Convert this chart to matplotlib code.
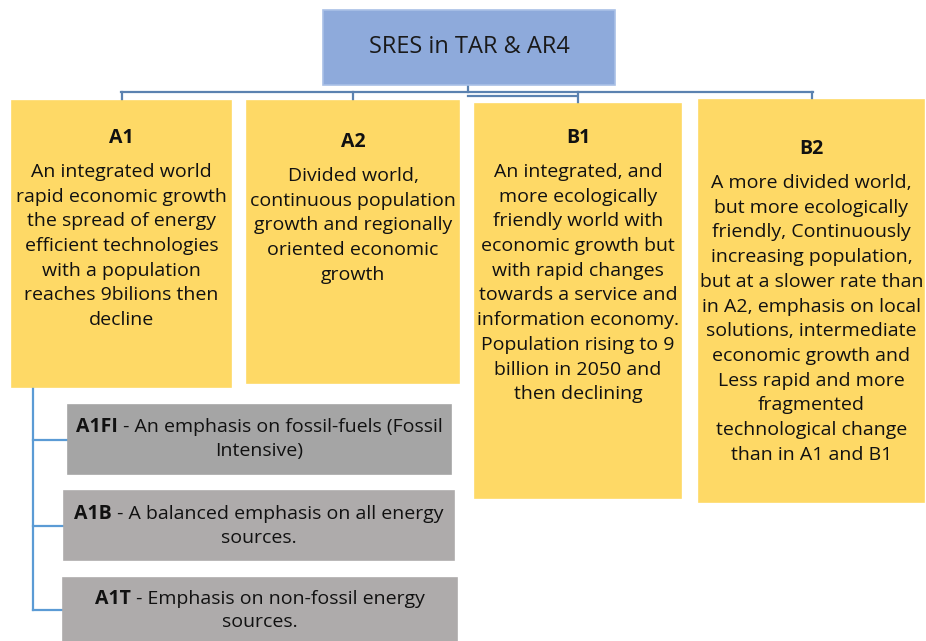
import matplotlib

matplotlib.use("Agg")

import matplotlib.pyplot as plt
from matplotlib.patches import Rectangle

plt.rcParams["font.family"] = ["Open Sans", "DejaVu Sans"]

title = "SRES in TAR & AR4"

scenario_names = ["A1", "A2", "B1", "B2"]
scenario_texts = [
    ["An integrated world", "rapid economic growth", "the spread of energy",
     "efficient technologies", "with a population", "reaches 9bilions then", "decline"],
    ["Divided world,", "continuous population", "growth and regionally",
     "oriented economic", "growth"],
    ["An integrated, and", "more ecologically", "friendly world with",
     "economic growth but", "with rapid changes", "towards a service and",
     "information economy.", "Population rising to 9", "billion in 2050 and",
     "then declining"],
    ["A more divided world,", "but more ecologically", "friendly, Continuously",
     "increasing population,", "but at a slower rate than", "in A2, emphasis on local",
     "solutions, intermediate", "economic growth and", "Less rapid and more",
     "fragmented", "technological change", "than in A1 and B1"],
]

family_names = ["A1FI", "A1B", "A1T"]
family_texts = [
    ["An emphasis on fossil-fuels (Fossil", "Intensive)"],
    ["A balanced emphasis on all energy", "sources."],
    ["Emphasis on non-fossil energy", "sources."],
]

# layout in pixels (x0, y0, x1, y1), y downwards
scenario_boxes = [(12, 101, 231, 387), (247, 101, 459, 383),
                  (475, 104, 681, 498), (699, 100, 924, 502)]
scenario_title_y = [138, 142, 138, 149]
family_boxes = [(68, 405, 451, 474), (64, 491, 454, 560), (63, 578, 457, 645)]
family_colors = ["#a5a5a5", "#aeabab", "#aeabab"]
family_line_y = [(427, 451), (514, 538), (599, 622)]

YELLOW = "#fed966"
LINE_BLUE = "#5b82b0"
LEFT_BLUE = "#5b9bd5"
LINE_H = 24.7
FS = 14.0

fig = plt.figure(figsize=(9.26, 6.41), dpi=100)
ax = fig.add_axes([0, 0, 1, 1])
ax.set_xlim(0, 926)
ax.set_ylim(641, 0)
ax.axis("off")


def box(x0, y0, x1, y1, color, edge=None):
    ax.add_patch(Rectangle((x0, y0), x1 - x0, y1 - y0, facecolor=color,
                           edgecolor=edge or color, linewidth=1.2, zorder=2))


# top connectors
ax.plot([468, 468], [85, 92], color=LINE_BLUE, lw=1.6, zorder=1)
ax.plot([121, 813], [92, 92], color=LINE_BLUE, lw=1.6, zorder=1)
ax.plot([468, 577], [96, 96], color=LINE_BLUE, lw=1.6, zorder=1)
for (x0, y0, x1, y1) in scenario_boxes:
    cx = (x0 + x1) / 2
    ax.plot([cx, cx], [92, y0], color=LINE_BLUE, lw=1.6, zorder=1)

# title box
box(323, 10, 615, 85, "#8eaadb", "#a9c0e6")
ax.text(469, 47, title, ha="center", va="center", fontsize=17, color="#1a1a1a", zorder=3)

# scenario boxes
for (x0, y0, x1, y1), name, lines, ty in zip(scenario_boxes, scenario_names,
                                             scenario_texts, scenario_title_y):
    box(x0, y0, x1, y1, YELLOW)
    cx = (x0 + x1) / 2
    ax.text(cx, ty, name, ha="center", va="center", fontsize=FS,
            fontweight="bold", color="#111111", zorder=3)
    for i, line in enumerate(lines):
        ax.text(cx, ty + 34 + i * LINE_H, line, ha="center", va="center",
                fontsize=FS, color="#111111", zorder=3)

# left connector to A1 families
ax.plot([33, 33], [387, 610], color=LEFT_BLUE, lw=1.6, zorder=1)
for (x0, y0, x1, y1), yl in zip(family_boxes, [440, 526, 610]):
    ax.plot([33, x0], [yl, yl], color=LEFT_BLUE, lw=1.6, zorder=1)

fig.canvas.draw()
renderer = fig.canvas.get_renderer()


def width_px(t):
    return t.get_window_extent(renderer).width


for (x0, y0, x1, y1), color, name, lines, ys in zip(family_boxes, family_colors,
                                                    family_names, family_texts,
                                                    family_line_y):
    box(x0, y0, x1, y1, color)
    cx = (x0 + x1) / 2
    bold = ax.text(0, ys[0], name, ha="left", va="center", fontsize=FS,
                   fontweight="bold", color="#111111", zorder=3)
    rest = ax.text(0, ys[0], " - " + lines[0], ha="left", va="center",
                   fontsize=FS, color="#111111", zorder=3)
    wb, wr = width_px(bold), width_px(rest)
    start = cx - (wb + wr) / 2
    bold.set_x(start)
    rest.set_x(start + wb)
    ax.text(cx, ys[1], lines[1], ha="center", va="center", fontsize=FS,
            color="#111111", zorder=3)

fig.savefig("out.png", dpi=100)
